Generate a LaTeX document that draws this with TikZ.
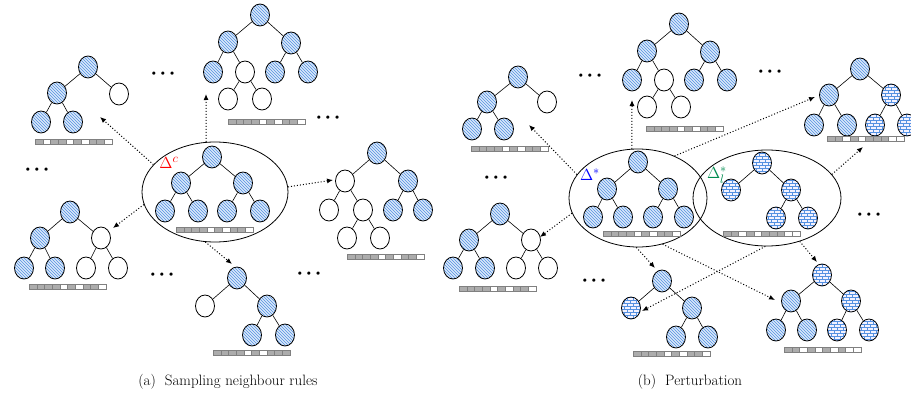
\documentclass[tikz,border=0pt]{standalone}
\usetikzlibrary{shapes.geometric,patterns,arrows.meta}

\definecolor{hatch}{RGB}{85,145,225}
\definecolor{nodebg}{RGB}{218,233,250}
\definecolor{deltagreen}{RGB}{0,140,80}
\colorlet{G}{gray!65}
\colorlet{W}{white}

% small bricks for the perturbed rules
\pgfdeclarepatternformonly{small bricks}{\pgfpoint{-0.5pt}{-0.5pt}}{\pgfpoint{6.5pt}{6.5pt}}{\pgfpoint{6pt}{6pt}}{
  \pgfsetlinewidth{0.6pt}
  \pgfpathmoveto{\pgfpoint{0pt}{0pt}}\pgfpathlineto{\pgfpoint{6pt}{0pt}}
  \pgfpathmoveto{\pgfpoint{0pt}{3pt}}\pgfpathlineto{\pgfpoint{6pt}{3pt}}
  \pgfpathmoveto{\pgfpoint{0pt}{0pt}}\pgfpathlineto{\pgfpoint{0pt}{3pt}}
  \pgfpathmoveto{\pgfpoint{3pt}{3pt}}\pgfpathlineto{\pgfpoint{3pt}{6pt}}
  \pgfusepath{stroke}}

% row of ten bits under a rule set
\newcommand{\bitbar}[3]{%
  \foreach \c [count=\i from 0] in {#3}
    \draw[cell, fill=\c] ({#1+\i*7.7},#2) rectangle ++(7.7,5);}

\begin{document}
\begin{tikzpicture}[x=1pt, y=-1pt,
    rule/.style={ellipse, draw, line width=0.8pt, minimum width=19pt, minimum height=22pt, inner sep=0pt},
    full/.style={rule, preaction={fill=nodebg}, pattern=north west lines, pattern color=hatch},
    brick/.style={rule, preaction={fill=blue!5}, pattern=small bricks, pattern color=hatch},
    empty/.style={rule, fill=white},
    link/.style={line width=0.6pt},
    group/.style={ellipse, draw, line width=0.8pt, inner sep=0pt},
    pick/.style={dotted, line width=1pt, -{Latex[length=6pt,width=5pt]}},
    cell/.style={draw=gray, line width=0.4pt},
    more/.style={font=\fontsize{12}{13}\selectfont, inner sep=0pt},
    delta/.style={font=\fontsize{15}{18}\selectfont, scale=1.12},
    caption/.style={font=\fontsize{15}{17}\selectfont}]
\useasboundingbox (0,0) rectangle (911,399);

%%%% (a) sampling
\node[group, minimum width=146pt, minimum height=100pt] (sa) at (215,192) {};
\node[full] (a0r) at (212,157) {};
\node[full] (a0L) at (181,183) {};
\node[full] (a0R) at (243,183) {};
\node[full] (a0LL) at (165,211) {};
\node[full] (a0LR) at (198,211) {};
\node[full] (a0RL) at (227,211) {};
\node[full] (a0RR) at (260,211) {};
\draw[link] (a0r) -- (a0L) (a0r) -- (a0R) (a0L) -- (a0LL) (a0L) -- (a0LR) (a0R) -- (a0RL) (a0R) -- (a0RR);
\bitbar{176}{227.5}{G,G,G,G,W,G,W,G,G,W}
\node[delta, red] (dc) at (169,163) {$\Delta^{c}$};

% top left
\node[full] (a1r) at (88,67) {};
\node[full] (a1L) at (57,93) {};
\node[empty] (a1R) at (119,94) {};
\node[full] (a1LL) at (41,122) {};
\node[full] (a1LR) at (73,122) {};
\draw[link] (a1r) -- (a1L) (a1r) -- (a1R) (a1L) -- (a1LL) (a1L) -- (a1LR);
\bitbar{35}{139.5}{G,W,G,G,W,G,W,G,G,W}

% top
\node[full] (a2r) at (260,15) {};
\node[full] (a2L) at (228,42) {};
\node[full] (a2R) at (291,43) {};
\node[full] (a2LL) at (213,72) {};
\node[empty] (a2LR) at (245,72) {};
\node[full] (a2RL) at (275,72) {};
\node[full] (a2RR) at (308,72) {};
\node[empty] (a2LRL) at (228,99) {};
\node[empty] (a2LRR) at (262,99) {};
\draw[link] (a2r) -- (a2L) (a2r) -- (a2R) (a2L) -- (a2LL) (a2L) -- (a2LR) (a2R) -- (a2RL) (a2R) -- (a2RR)
  (a2LR) -- (a2LRL) (a2LR) -- (a2LRR);
\bitbar{228}{119.5}{G,G,G,G,W,G,W,G,G,W}

% right
\node[full] (a3r) at (377,153) {};
\node[empty] (a3L) at (345,181) {};
\node[full] (a3R) at (408,181) {};
\node[empty] (a3LL) at (329,210) {};
\node[empty] (a3LR) at (363,210) {};
\node[full] (a3RL) at (393,210) {};
\node[full] (a3RR) at (423,210) {};
\node[empty] (a3LRL) at (347,238) {};
\node[empty] (a3LRR) at (380,238) {};
\draw[link] (a3r) -- (a3L) (a3r) -- (a3R) (a3L) -- (a3LL) (a3L) -- (a3LR) (a3R) -- (a3RL) (a3R) -- (a3RR)
  (a3LR) -- (a3LRL) (a3LR) -- (a3LRR);
\bitbar{347}{254.5}{G,G,G,G,W,G,W,G,G,W}

% bottom left
\node[full] (a4r) at (70,212) {};
\node[full] (a4L) at (40,238) {};
\node[empty] (a4R) at (101,238) {};
\node[full] (a4LL) at (24,268) {};
\node[full] (a4LR) at (55,268) {};
\node[empty] (a4RL) at (86,268) {};
\node[empty] (a4RR) at (118,268) {};
\draw[link] (a4r) -- (a4L) (a4r) -- (a4R) (a4L) -- (a4LL) (a4L) -- (a4LR) (a4R) -- (a4RL) (a4R) -- (a4RR);
\bitbar{29}{284.5}{G,G,G,G,W,G,W,G,G,W}

% bottom
\node[full] (a5r) at (237,278) {};
\node[empty] (a5L) at (205,306) {};
\node[full] (a5R) at (267,306) {};
\node[full] (a5RL) at (252,335) {};
\node[full] (a5RR) at (285,335) {};
\draw[link] (a5r) -- (a5L) (a5r) -- (a5R) (a5R) -- (a5RL) (a5R) -- (a5RR);
\bitbar{213}{350.5}{G,G,G,G,W,G,W,G,G,G}

\coordinate (ta1) at (100,117);
\coordinate (ta2) at (206,94);
\coordinate (ta3) at (333,180);
\coordinate (ta4) at (113,228);
\coordinate (ta5) at (232,264);
\draw[pick] (sa.156) -- (ta1);
\draw[pick] (sa.100) -- (ta2);
\draw[pick] (sa.4) -- (ta3);
\draw[pick] (sa.190) -- (ta4);
\draw[pick] (sa.259) -- (ta5);

\node[more] (ma1) at (163,74) {\textbullet\textbullet\textbullet};
\node[more] (ma2) at (328,118) {\textbullet\textbullet\textbullet};
\node[more] (ma3) at (37,170) {\textbullet\textbullet\textbullet};
\node[more] (ma4) at (162,275) {\textbullet\textbullet\textbullet};
\node[more] (ma5) at (309,274) {\textbullet\textbullet\textbullet};

%%%% (b) perturbation
\node[group, minimum width=138pt, minimum height=98pt] (sb) at (638,198) {};
\node[full] (b0r) at (638,162) {};
\node[full] (b0L) at (607,189) {};
\node[full] (b0R) at (668,189) {};
\node[full] (b0LL) at (593,217) {};
\node[full] (b0LR) at (623,217) {};
\node[full] (b0RL) at (653,217) {};
\node[full] (b0RR) at (684,217) {};
\draw[link] (b0r) -- (b0L) (b0r) -- (b0R) (b0L) -- (b0LL) (b0L) -- (b0LR) (b0R) -- (b0RL) (b0R) -- (b0RR);
\bitbar{603}{231.5}{G,G,G,G,W,G,W,G,G,W}
\node[delta, blue] (ds) at (590,175) {$\Delta^{*}$};

\node[group, minimum width=148pt, minimum height=96pt] (sc) at (767,198) {};
\node[brick] (clr) at (762,163) {};
\node[brick] (clL) at (731,190) {};
\node[brick] (clR) at (791,190) {};
\node[brick] (clRL) at (776,218) {};
\node[brick] (clRR) at (808,218) {};
\draw[link] (clr) -- (clL) (clr) -- (clR) (clR) -- (clRL) (clR) -- (clRR);
\bitbar{723}{231.5}{G,G,W,G,W,G,G,G,W,W}
\node[delta, deltagreen] (dl) at (717,175) {$\Delta^{*}_{l}$};

% top left
\node[full] (b1r) at (518,77) {};
\node[full] (b1L) at (487,102) {};
\node[empty] (b1R) at (547,102) {};
\node[full] (b1LL) at (472,129) {};
\node[full] (b1LR) at (504,129) {};
\draw[link] (b1r) -- (b1L) (b1r) -- (b1R) (b1L) -- (b1LL) (b1L) -- (b1LR);
\bitbar{471}{146.5}{G,G,G,G,W,G,W,G,G,W}

% top
\node[full] (b2r) at (679,24) {};
\node[full] (b2L) at (647,51) {};
\node[full] (b2R) at (710,52) {};
\node[full] (b2LL) at (632,80) {};
\node[empty] (b2LR) at (664,80) {};
\node[full] (b2RL) at (694,80) {};
\node[full] (b2RR) at (727,80) {};
\node[empty] (b2LRL) at (647,107) {};
\node[empty] (b2LRR) at (681,107) {};
\draw[link] (b2r) -- (b2L) (b2r) -- (b2R) (b2L) -- (b2LL) (b2L) -- (b2LR) (b2R) -- (b2RL) (b2R) -- (b2RR)
  (b2LR) -- (b2LRL) (b2LR) -- (b2LRR);
\bitbar{646}{126.5}{G,G,G,G,W,G,W,G,G,W}

% top right
\node[full] (b3r) at (860,69) {};
\node[full] (b3L) at (829,95) {};
\node[brick] (b3R) at (891,95) {};
\node[full] (b3LL) at (814,125) {};
\node[full] (b3LR) at (847,125) {};
\node[brick] (b3RL) at (875,125) {};
\node[brick] (b3RR) at (907,125) {};
\draw[link] (b3r) -- (b3L) (b3r) -- (b3R) (b3L) -- (b3LL) (b3L) -- (b3LR) (b3R) -- (b3RL) (b3R) -- (b3RR);
\bitbar{827}{136.5}{G,G,W,G,W,G,G,G,W,W}

% left
\node[full] (b4r) at (500,214) {};
\node[full] (b4L) at (469,240) {};
\node[empty] (b4R) at (531,240) {};
\node[full] (b4LL) at (453,268) {};
\node[full] (b4LR) at (485,268) {};
\node[empty] (b4RL) at (516,268) {};
\node[empty] (b4RR) at (548,268) {};
\draw[link] (b4r) -- (b4L) (b4r) -- (b4R) (b4L) -- (b4LL) (b4L) -- (b4LR) (b4R) -- (b4RL) (b4R) -- (b4RR);
\bitbar{459}{286.5}{G,G,G,G,W,G,W,G,G,W}

% bottom
\node[full] (b5r) at (662,281) {};
\node[brick] (b5L) at (631,308) {};
\node[full] (b5R) at (692,308) {};
\node[full] (b5RL) at (676,337) {};
\node[full] (b5RR) at (708,337) {};
\draw[link] (b5r) -- (b5L) (b5r) -- (b5R) (b5R) -- (b5RL) (b5R) -- (b5RR);
\bitbar{633}{351.5}{G,G,G,G,W,G,W,G,G,W}

% bottom right
\node[brick] (b6r) at (822,275) {};
\node[full] (b6L) at (791,301) {};
\node[brick] (b6R) at (851,301) {};
\node[full] (b6LL) at (776,330) {};
\node[full] (b6LR) at (807,330) {};
\node[brick] (b6RL) at (837,330) {};
\node[brick] (b6RR) at (869,330) {};
\draw[link] (b6r) -- (b6L) (b6r) -- (b6R) (b6L) -- (b6LL) (b6L) -- (b6LR) (b6R) -- (b6RL) (b6R) -- (b6RR);
\bitbar{784}{347.5}{G,G,W,G,W,G,W,G,W,W}

\coordinate (tb1) at (529,125);
\coordinate (tb2) at (632,100);
\coordinate (tb3) at (815,97);
\coordinate (tb4) at (540,237);
\coordinate (tb5) at (655,268);
\coordinate (tb6) at (775,300);
\coordinate (tc3) at (863,147);
\coordinate (tc5) at (642,311);
\coordinate (tc6) at (817,262);
\draw[pick] (sb.159) -- (tb1);
\draw[pick] (sb.97) -- (tb2);
\draw[pick] (sb.49) -- (tb3);
\draw[pick] (sb.193) -- (tb4);
\draw[pick] (sb.268) -- (tb5);
\draw[pick] (sb.298) -- (tb6);
\draw[pick] (sc.20) -- (tc3);
\draw[pick] (sc.268) -- (tc5);
\draw[pick] (sc.307) -- (tc6);

\node[more] (mb1) at (590,76) {\textbullet\textbullet\textbullet};
\node[more] (mb2) at (770,72) {\textbullet\textbullet\textbullet};
\node[more] (mb3) at (496,178) {\textbullet\textbullet\textbullet};
\node[more] (mb4) at (869,215) {\textbullet\textbullet\textbullet};
\node[more] (mb5) at (594,281) {\textbullet\textbullet\textbullet};

\node[caption] (capa) at (228,382) {(a)\ \ Sampling neighbour rules};
\node[caption] (capb) at (690,382) {(b)\ \ Perturbation};
\end{tikzpicture}
\end{document}
